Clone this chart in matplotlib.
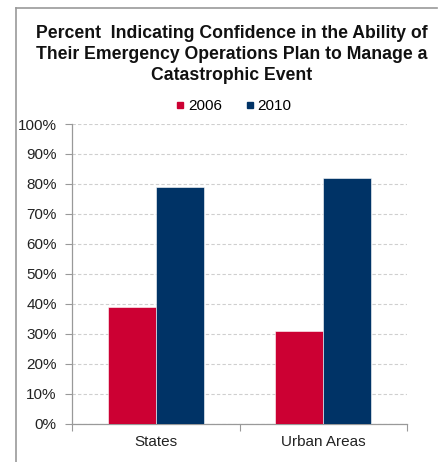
import matplotlib.pyplot as plt
from matplotlib.lines import Line2D
import numpy as np

plt.rcParams["font.family"] = ["Liberation Sans", "DejaVu Sans"]

categories = ["States", "Urban Areas"]
years = ["2006", "2010"]
pct_2006 = [39, 31]
pct_2010 = [79, 82]
yticks = [0, 10, 20, 30, 40, 50, 60, 70, 80, 90, 100]

red = "#CC0033"
blue = "#003366"

fig = plt.figure(figsize=(4.42, 4.62), dpi=100)
ax = fig.add_axes([0.163, 0.0823, 0.758, 0.6493])

x = np.arange(len(categories))
w = 0.287
ax.bar(x - w / 2, pct_2006, w, color=red, edgecolor="white", linewidth=0.4, zorder=3, label=years[0])
ax.bar(x + w / 2, pct_2010, w, color=blue, edgecolor="white", linewidth=0.4, zorder=3, label=years[1])

ax.set_xlim(-0.5, 1.5)
ax.set_ylim(0, 100)
ax.set_yticks(yticks)
ax.set_yticklabels([f"{t}%" for t in yticks], fontsize=11, color="#222222")
ax.yaxis.grid(True, color="#CFCFCF", linestyle=(0, (3, 2)), linewidth=0.8, zorder=0)

# category ticks at group boundaries, labels at centers
ax.set_xticks([-0.5, 0.5, 1.5])
ax.set_xticklabels([])
ax.set_xticks(x, minor=True)
ax.set_xticklabels(categories, minor=True, fontsize=11, color="#222222")
ax.tick_params(axis="x", which="major", length=5, color="#999999", direction="out")
ax.tick_params(axis="x", which="minor", length=0, pad=8)
ax.tick_params(axis="y", length=5, color="#999999", pad=6)

for s in ["top", "right"]:
    ax.spines[s].set_visible(False)
for s in ["left", "bottom"]:
    ax.spines[s].set_color("#999999")
    ax.spines[s].set_linewidth(0.9)

fig.text(0.525, 0.945,
         "Percent  Indicating Confidence in the Ability of\n"
         "Their Emergency Operations Plan to Manage a\n"
         "Catastrophic Event",
         ha="center", va="top", fontsize=12.7, fontweight="bold",
         linespacing=1.3, color="#111111")

handles = [Line2D([], [], marker="s", color=c, linestyle="", markersize=5) for c in (red, blue)]
fig.legend(handles, years, loc="center", bbox_to_anchor=(0.525, 0.770), ncol=2,
           frameon=False, fontsize=11, handletextpad=0.0, columnspacing=1.3,
           handlelength=1.0)

# outer chart-area border (left and top)
fig.add_artist(Line2D([16 / 442, 16 / 442], [0, 1 - 8 / 462], color="#999999", linewidth=1.2))
fig.add_artist(Line2D([16 / 442, 437 / 442], [1 - 8 / 462, 1 - 8 / 462], color="#999999", linewidth=1.2))

fig.savefig("out.png", dpi=100)
